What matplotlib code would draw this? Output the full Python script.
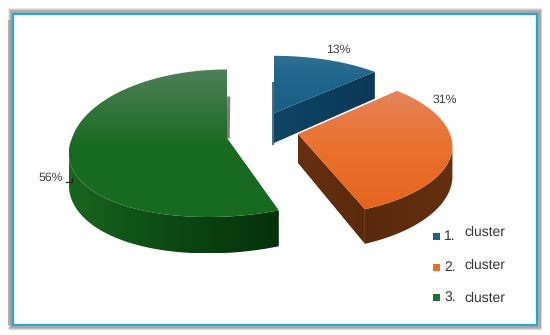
"""
Exploded 3D pie of cluster shares, drawn in pixel coordinates
"""
################################################################################
# Required Packages
################################################################################
import numpy as np
import matplotlib
matplotlib.use('Agg')
import matplotlib.pyplot as plt
from matplotlib.colors import LinearSegmentedColormap
from matplotlib.patches import Polygon, Rectangle

################################################################################
# Data
################################################################################
shares          = [13, 31, 56]
legend_numbers  = ['1.', '2.', '3.']
legend_names    = ['cluster', 'cluster', 'cluster']

################################################################################
# Style
################################################################################
plt.rcParams['font.family']     = ['Liberation Sans', 'DejaVu Sans']
plt.rcParams['text.hinting']    = 'no_hinting'

# apex, radius, far and near squash, perspective, near skew, depth
GEOM = [
    dict(ax = 274, ay = 113, r = 155, kf = 0.434, kn = 0.44, p = 0.176, skew = 0, h = 30),
    dict(ax = 298, ay = 134, r = 152, kf = 0.465, kn = 0.445, p = 0.176, skew = 0, h = 29),
    dict(ax = 227, ay = 138, r = 155, kf = 0.52, kn = 0.42, p = 0.176, skew = 19, h = 30)]

TOP_COLORS  = [
    ['#316f93', '#1c6489', '#1a6085'],
    ['#e5845a', '#ea702c', '#e5651f'],
    ['#50805a', '#1a6b22', '#166a20']]
RIM_COLORS  = [
    ['#0c3d5c', '#0a3654'],
    ['#5a280c', '#63300f'],
    ['#19661f', '#0f5216', '#0a4010', '#06300a']]
CUT_COLORS  = [
    ['#0f4465', '#0b3857'],
    ['#66300f', '#5a290c'],
    None]
LEGEND_COLORS   = ['#1d6288', '#ea6f2c', '#1f7030']
BORDER_COLOR    = '#2ea4d6'
TEXT_COLOR      = '#404040'

################################################################################
# Helpers
################################################################################
def project(theta, g, depth = 0.0):
    """Angle clockwise from 12 o'clock to a pixel, with simple perspective"""
    big_x   = np.sin(theta)
    big_y   = np.cos(theta)
    s       = 1 / (1 + g['p'] * big_y)
    k       = np.where(big_y > 0, g['kf'], g['kn'])
    x       = g['ax'] + g['r'] * big_x * s - g['skew'] * np.minimum(big_y, 0) ** 2
    y       = g['ay'] - g['r'] * k * big_y * s + depth * g['h'] * s
    return np.column_stack([x, y])

def grad_fill(ax, verts, colors, horizontal = False, zorder = 2):
    """Fill a polygon with a linear gradient over its bounding box"""
    cmap    = LinearSegmentedColormap.from_list('g', colors)
    ramp    = np.linspace(0, 1, 256)
    ramp    = ramp[None, :] if horizontal else ramp[:, None]
    x0, y0  = verts.min(axis = 0)
    x1, y1  = verts.max(axis = 0)
    im      = ax.imshow(
        ramp, cmap = cmap, extent = (x0, x1, y1, y0), aspect = 'auto',
        zorder = zorder, interpolation = 'bilinear')
    patch   = Polygon(verts, closed = True, transform = ax.transData, facecolor = 'none', edgecolor = 'none')
    ax.add_patch(patch)
    im.set_clip_path(patch)

################################################################################
# Figure
################################################################################
fig = plt.figure(figsize = (5.5, 3.35), dpi = 100)
ax  = fig.add_axes([0, 0, 1, 1])

########################################
# Frame with soft shadow
########################################
for i in range(6):
    ax.add_patch(Rectangle(
        (8 + i * 0.6, 8 + i * 0.5), 534 - i * 0.9, 322 - i * 0.9,
        facecolor = '#808080', edgecolor = 'none', alpha = 0.16, zorder = 0))
ax.add_patch(Rectangle(
    (8, 20), 4, 305, facecolor = '#9a9a9a', edgecolor = 'none', alpha = 0.7, zorder = 0.5))
ax.add_patch(Rectangle(
    (12.5, 13.5), 524, 311,
    facecolor = 'white', edgecolor = BORDER_COLOR, linewidth = 1.6, zorder = 1))

########################################
# Slices
########################################
edges   = np.cumsum([0] + shares) / np.sum(shares) * 2 * np.pi

for i in range(len(shares)):
    g       = GEOM[i]
    thetas  = np.linspace(edges[i], edges[i + 1], 200)
    apex    = np.array([[g['ax'], g['ay']]], dtype = float)
    top_arc = project(thetas, g)
    bot_arc = project(thetas, g, depth = 1.0)

    # Outer rim, from the widest point of the arc round to the near side
    widest  = np.argmax(np.abs(top_arc[:, 0] - g['ax']))
    near    = np.cos(thetas) <= np.cos(thetas[widest])
    rim     = np.vstack([top_arc[near], bot_arc[near][::-1]])
    if len(rim) > 4:
        grad_fill(ax, rim, RIM_COLORS[i], horizontal = True, zorder = 3)

    # Radial cut facing the viewer
    if CUT_COLORS[i] is not None:
        base    = apex + np.array([[0, g['h']]])
        cut     = np.vstack([apex, top_arc[-1], bot_arc[-1], base])
        grad_fill(ax, cut, CUT_COLORS[i], horizontal = True, zorder = 3)

    # Top face
    top = np.vstack([apex, top_arc])
    grad_fill(ax, top, TOP_COLORS[i], zorder = 4)

# Thin shaded slivers along the upright cuts
ax.plot([273, 273], [83, 144], color = '#3f5a6c', lw = 1.4, alpha = 0.9, zorder = 2.5)
ax.plot([228.7, 228.2], [98, 137], color = '#707070', lw = 2.2, alpha = 0.9, zorder = 2.5)

########################################
# Value labels
########################################
label_pos   = [(338, 50), (445, 100), (51, 178)]
for value, (x, y) in zip(shares, label_pos):
    ax.text(x, y, f'{value}%', fontsize = 8.8, color = TEXT_COLOR, ha = 'center', va = 'center', zorder = 6)
ax.plot([66, 72, 72], [182, 182, 178], color = '#222222', lw = 0.9, zorder = 6)

########################################
# Legend
########################################
legend_y        = [236, 267, 297]
legend_name_y   = [232, 265, 298]
for i in range(len(legend_numbers)):
    ax.add_patch(Rectangle(
        (432.5, legend_y[i] - 3.5), 7, 7,
        facecolor = LEGEND_COLORS[i], edgecolor = 'none', zorder = 6))
    ax.text(444, legend_y[i], legend_numbers[i], fontsize = 10, color = '#333333', ha = 'left', va = 'center', zorder = 6)
    ax.text(464, legend_name_y[i], legend_names[i], fontsize = 10, color = '#333333', ha = 'left', va = 'center', zorder = 6)

ax.set_xlim(0, 550)
ax.set_ylim(335, 0)
ax.axis('off')

fig.savefig('out.png', dpi = 100)
